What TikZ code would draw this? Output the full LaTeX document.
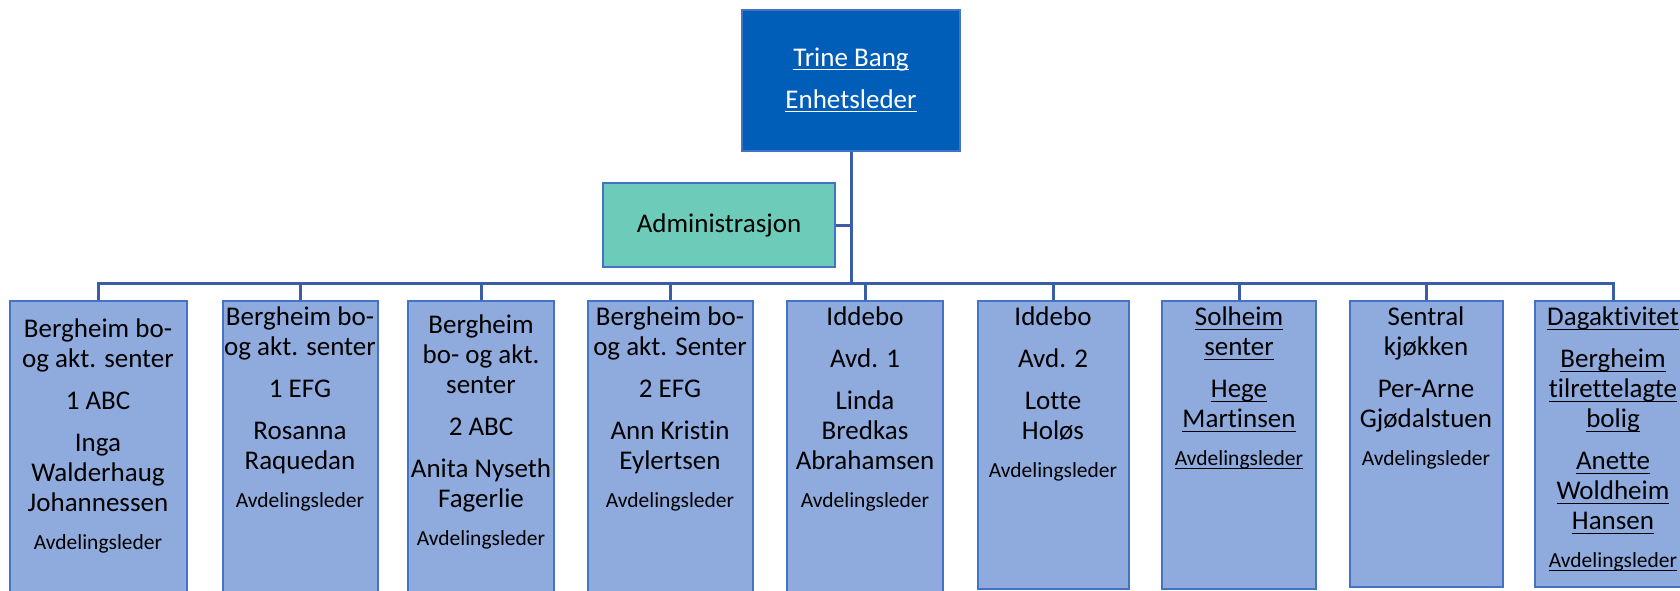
\documentclass[tikz,border=0pt]{standalone}
\usepackage{fontspec}
\setmainfont{Carlito}[Ligatures={TeX,NoCommon}]
\usetikzlibrary{positioning}

\definecolor{unitfill}{RGB}{143,170,220}
\definecolor{boxline}{RGB}{68,114,196}
\definecolor{bossfill}{RGB}{0,94,184}
\definecolor{adminfill}{RGB}{109,203,186}
\definecolor{linkline}{RGB}{59,92,167}
\newsavebox{\undbox}
\newcommand{\lead}[1]{{\fontsize{21.5}{26}\selectfont #1}}
\newcommand{\und}[1]{\sbox{\undbox}{#1}\rlap{\rule[-0.15em]{\wd\undbox}{1.3pt}}\usebox{\undbox}}

\begin{document}
\begin{tikzpicture}[
        x=1pt,
        y=-1pt,
        every node/.style={font=\fontsize{27}{30}\selectfont},
        unit/.style={draw=boxline, fill=unitfill, line width=2pt, anchor=north,
            inner sep=0pt, minimum height=300pt},
        unittext/.style={align=center, inner sep=0pt},
        boss/.style={draw=boxline, fill=bossfill, text=white, line width=2pt,
            align=center, minimum width=218pt, minimum height=141pt},
        admin/.style={draw=boxline, fill=adminfill, line width=2pt,
            minimum width=232pt, minimum height=84pt},
        link/.style={draw=linkline, line width=3pt}
    ]
    \useasboundingbox (0,0) rectangle (1680,590);

    % top of the tree
    \node[boss] (boss) at (851,80) {\und{Trine Bang}\\[12pt]\und{Enhetsleder}};
    \node[admin] (admin) at (719,225) {Administrasjon};
    \coordinate (bar) at (851,283);

    % departments
    \node[unit, minimum width=177pt] (u1) at (98,300) {};
    \node[unit, minimum width=155pt] (u2) at (300,300) {};
    \node[unit, minimum width=146pt] (u3) at (481,300) {};
    \node[unit, minimum width=165pt] (u4) at (670,300) {};
    \node[unit, minimum width=156pt] (u5) at (865,300) {};
    \node[unit, minimum width=151pt, minimum height=288pt] (u6) at (1053,300) {};
    \node[unit, minimum width=154pt, minimum height=288pt] (u7) at (1239,300) {};
    \node[unit, minimum width=153pt, minimum height=286pt] (u8) at (1426,300) {};
    \node[unit, minimum width=156pt, minimum height=286pt] (u9) at (1613,300) {};

    \node[unittext, below=19pt of u1.north] (t1) {Bergheim bo-\\og akt. senter\\[12pt]1 ABC\\[12pt]Inga\\Walderhaug\\Johannessen\\[8pt]\lead{Avdelingsleder}};
    \node[unittext, below=7pt of u2.north] (t2) {Bergheim bo-\\og akt. senter\\[12pt]1 EFG\\[12pt]Rosanna\\Raquedan\\[8pt]\lead{Avdelingsleder}};
    \node[unittext, below=15pt of u3.north] (t3) {Bergheim\\bo- og akt.\\senter\\[12pt]2 ABC\\[12pt]Anita Nyseth\\Fagerlie\\[8pt]\lead{Avdelingsleder}};
    \node[unittext, below=7pt of u4.north] (t4) {Bergheim bo-\\og akt. Senter\\[12pt]2 EFG\\[12pt]Ann Kristin\\Eylertsen\\[8pt]\lead{Avdelingsleder}};
    \node[unittext, below=7pt of u5.north] (t5) {Iddebo\\[12pt]Avd. 1\\[12pt]Linda\\Bredkas\\Abrahamsen\\[8pt]\lead{Avdelingsleder}};
    \node[unittext, below=7pt of u6.north] (t6) {Iddebo\\[12pt]Avd. 2\\[12pt]Lotte\\Holøs\\[8pt]\lead{Avdelingsleder}};
    \node[unittext, below=7pt of u7.north] (t7) {\und{Solheim}\\\und{senter}\\[12pt]\und{Hege}\\\und{Martinsen}\\[8pt]\lead{\und{Avdelingsleder}}};
    \node[unittext, below=7pt of u8.north] (t8) {Sentral\\kjøkken\\[12pt]Per-Arne\\Gjødalstuen\\[8pt]\lead{Avdelingsleder}};
    \node[unittext, below=7pt of u9.north] (t9) {\und{Dagaktivitet}\\[12pt]\und{Bergheim}\\\und{tilrettelagte}\\\und{bolig}\\[12pt]\und{Anette}\\\und{Woldheim}\\\und{Hansen}\\[8pt]\lead{\und{Avdelingsleder}}};

    % connectors
    \draw[link] (boss.south) -- (bar);
    \draw[link] (admin.east) -- (admin.east -| boss.south);
    \foreach \u in {u1,u2,u3,u4,u5,u6,u7,u8,u9}
        \draw[link] (bar) -| (\u.north);
\end{tikzpicture}
\end{document}
